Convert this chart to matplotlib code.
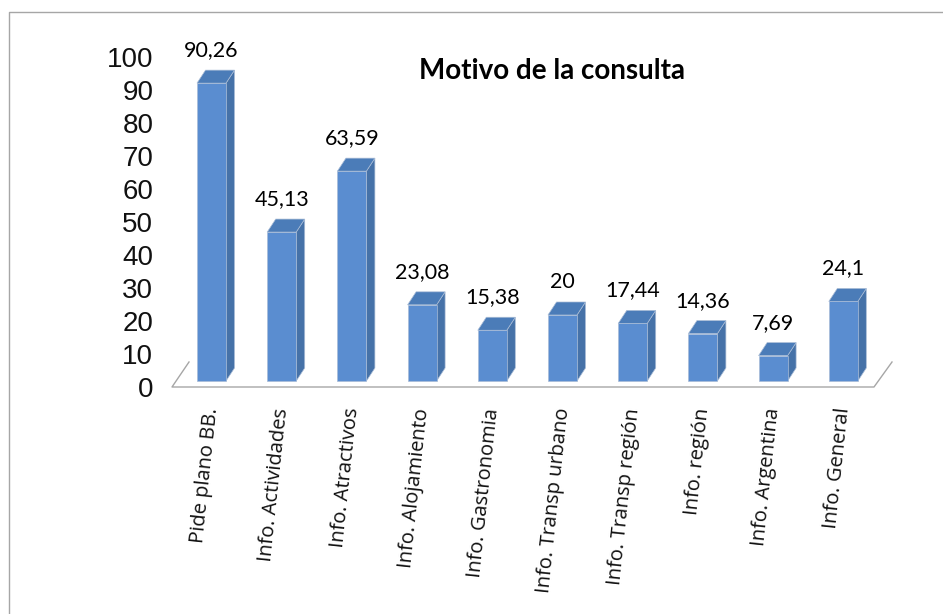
import matplotlib
matplotlib.use('Agg')
import matplotlib.pyplot as plt
from matplotlib.lines import Line2D
from matplotlib.patches import Polygon

categorias = ['Pide plano BB.', 'Info. Actividades', 'Info. Atractivos', 'Info. Alojamiento',
              'Info. Gastronomia', 'Info. Transp urbano', 'Info. Transp región', 'Info. región',
              'Info. Argentina', 'Info. General']
valores = [90.26, 45.13, 63.59, 23.08, 15.38, 20, 17.44, 14.36, 7.69, 24.1]
etiquetas = ['90,26', '45,13', '63,59', '23,08', '15,38', '20', '17,44', '14,36', '7,69', '24,1']
ticks = [0, 10, 20, 30, 40, 50, 60, 70, 80, 90, 100]

W, H = 943, 614
fig = plt.figure(figsize=(W / 100, H / 100), dpi=100)
plt.rcParams['font.family'] = ['Lato', 'DejaVu Sans']

# ejes: x 172-874 px frente del piso, y 57-387 px
ax = fig.add_axes([172 / W, 1 - 387 / H, 720 / W, 330 / H])
paso = 70.2
ax.set_xlim((172 - 211.5) / paso, (892 - 211.5) / paso)
ax.set_ylim(0, 100)
for s in ax.spines.values():
    s.set_visible(False)
ax.set_xticks([])
ax.set_yticks(ticks)
ax.set_yticklabels([str(t) for t in ticks], fontsize=20, family='Liberation Sans', color='#111111')
ax.tick_params(axis='y', length=0, pad=13.5)

ux = 1 / paso          # 1 px en x
uy = 100 / 330         # 1 px en y
ancho = 29 * ux
dx, dy = 8.5 * ux, 13 * uy
base = 6 * uy
borde = '#a9bcd6'

# piso
xl, xr = ax.get_xlim()
piso_x = [xl + 17 * ux, xl, xr - 18 * ux, xr]
piso_y = [25 * uy, 0, 0, 25 * uy]
ax.plot(piso_x, piso_y, color='#a6a6a6', lw=1, clip_on=False, zorder=1)

for i, v in enumerate(valores):
    x0 = i - ancho / 2
    x1 = i + ancho / 2
    top = base + v
    ax.bar(i, v, width=ancho, bottom=base, color='#5a8dd0', edgecolor=borde, lw=0.5, zorder=3)
    ax.add_patch(Polygon([(x1, base), (x1 + dx, base + dy), (x1 + dx, top + dy), (x1, top)],
                         fc='#4672a8', ec=borde, lw=0.5, zorder=2, clip_on=False))
    ax.add_patch(Polygon([(x0, top), (x1, top), (x1 + dx, top + dy), (x0 + dx, top + dy)],
                         fc='#4b7cb8', ec=borde, lw=0.5, zorder=2, clip_on=False))
    ax.text(i, top + 33 * uy, etiquetas[i], ha='center', va='center', fontsize=15.5,
            color='black', clip_on=False)
    ax.text(i + 0.01, -21 * uy, categorias[i], rotation=84, rotation_mode='anchor', ha='right',
            va='center', fontsize=14.5, family='Open Sans', color='#111111', clip_on=False)

fig.text(552 / W, 1 - 71 / H, 'Motivo de la consulta', ha='center', va='center',
         fontsize=20, fontweight='bold', color='black')

# borde del grafico
fig.add_artist(Line2D([8.5 / W, 8.5 / W, 1], [0, 1 - 11.5 / H, 1 - 11.5 / H], color='#a6a6a6', lw=1))

fig.savefig('out.png', dpi=100)
